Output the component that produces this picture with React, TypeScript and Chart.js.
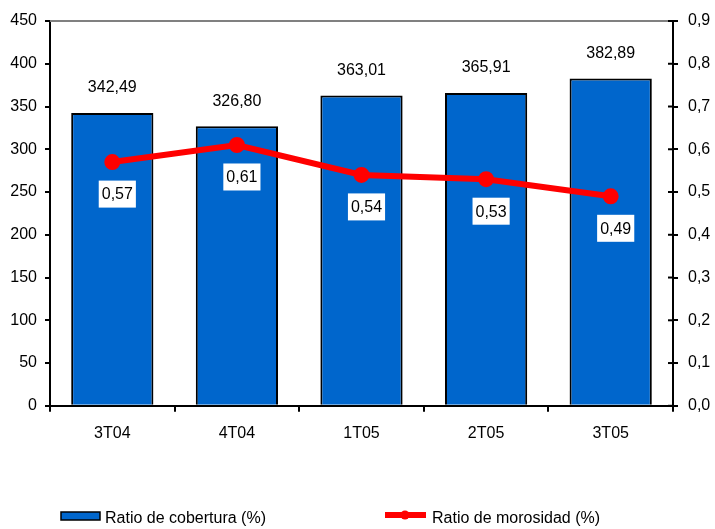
import React, { useEffect, useRef } from "react";
import { Chart, registerables } from "chart.js";

Chart.register(...registerables);

const categories = ["3T04", "4T04", "1T05", "2T05", "3T05"];
const coberturaValues = [342.49, 326.8, 363.01, 365.91, 382.89];
const morosidadValues = [0.57, 0.61, 0.54, 0.53, 0.49];
const coberturaLabel = "Ratio de cobertura (%)";
const morosidadLabel = "Ratio de morosidad (%)";

const FONT = "'Liberation Sans', Arial, sans-serif";
const BLUE = "#0066CC";
const RED = "#FF0000";

const fmt = (v: number, d: number) => v.toFixed(d).replace(".", ",");

const extrasPlugin = {
  id: "extras",
  afterDraw(chart: any) {
    const ctx = chart.ctx;
    const area = chart.chartArea;
    ctx.save();
    // top gray border
    ctx.strokeStyle = "#808080";
    ctx.lineWidth = 2;
    ctx.beginPath();
    ctx.moveTo(area.left, area.top);
    ctx.lineTo(area.right, area.top);
    ctx.stroke();

    // inner ticks of right axis
    const y2 = chart.scales.y2;
    ctx.strokeStyle = "#000";
    ctx.lineWidth = 2;
    y2.ticks.forEach((t: any, i: number) => {
      const y = y2.getPixelForTick(i);
      ctx.beginPath();
      ctx.moveTo(area.right - 5, y);
      ctx.lineTo(area.right, y);
      ctx.stroke();
    });

    // bar value labels
    ctx.font = `16px ${FONT}`;
    ctx.textAlign = "center";
    ctx.textBaseline = "middle";
    ctx.fillStyle = "#000";
    const barMeta = chart.getDatasetMeta(0);
    barMeta.data.forEach((el: any, i: number) => {
      ctx.fillText(fmt(coberturaValues[i], 2), el.x, el.y - 25);
    });

    // line value labels in white boxes
    const lineMeta = chart.getDatasetMeta(1);
    lineMeta.data.forEach((el: any, i: number) => {
      const txt = fmt(morosidadValues[i], 2);
      const w = ctx.measureText(txt).width + 6;
      const h = 27;
      const cx = el.x + 5;
      const cy = el.y + 32;
      ctx.fillStyle = "#fff";
      ctx.fillRect(cx - w / 2, cy - h / 2, w, h);
      ctx.fillStyle = "#000";
      ctx.fillText(txt, cx, cy + 1);
    });

    // legend
    ctx.fillStyle = BLUE;
    ctx.fillRect(61, 512, 39, 8);
    ctx.strokeStyle = "#000";
    ctx.lineWidth = 1.5;
    ctx.strokeRect(61, 512, 39, 8);
    ctx.textAlign = "left";
    ctx.fillStyle = "#000";
    ctx.font = `16px ${FONT}`;
    ctx.fillText(coberturaLabel, 105, 519);

    ctx.strokeStyle = RED;
    ctx.lineWidth = 6;
    ctx.beginPath();
    ctx.moveTo(385, 515);
    ctx.lineTo(426, 515);
    ctx.stroke();
    ctx.fillStyle = RED;
    ctx.beginPath();
    ctx.arc(405, 515, 4.5, 0, Math.PI * 2);
    ctx.fill();
    ctx.fillStyle = "#000";
    ctx.fillText(morosidadLabel, 432, 519);
    ctx.restore();
  },
};

export default function App() {
  const ref = useRef<HTMLCanvasElement>(null);
  useEffect(() => {
    if (!ref.current) return;
    const chart = new Chart(ref.current, {
      data: {
        labels: categories,
        datasets: [
          {
            type: "bar",
            label: coberturaLabel,
            data: coberturaValues,
            backgroundColor: BLUE,
            borderColor: "#000",
            borderWidth: 2,
            categoryPercentage: 0.66,
            barPercentage: 1,
            yAxisID: "y",
            order: 2,
          },
          {
            type: "line",
            label: morosidadLabel,
            data: morosidadValues,
            borderColor: RED,
            backgroundColor: RED,
            borderWidth: 6,
            pointRadius: 5,
            pointBackgroundColor: RED,
            pointBorderColor: RED,
            yAxisID: "y2",
            order: 1,
            tension: 0,
          },
        ],
      },
      options: {
        animation: false,
        responsive: true,
        maintainAspectRatio: false,
        layout: { padding: { top: 21, left: 0, right: 0, bottom: 74 } },
        plugins: { legend: { display: false }, tooltip: { enabled: false } },
        scales: {
          x: {
            offset: true,
            grid: {
              offset: true,
              drawOnChartArea: false,
              drawTicks: true,
              tickLength: 6,
              color: "#000",
              lineWidth: 2,
            },
            border: { color: "#000", width: 2 },
            ticks: {
              color: "#000",
              font: { family: FONT, size: 16 },
              padding: 12,
            },
          },
          y: {
            position: "left",
            min: 0,
            max: 450,
            afterFit: (s: any) => {
              s.width = 50;
            },
            ticks: {
              stepSize: 50,
              color: "#000",
              font: { family: FONT, size: 16 },
              padding: 8,
            },
            grid: {
              drawOnChartArea: false,
              drawTicks: true,
              tickLength: 5,
              color: "#000",
              lineWidth: 2,
            },
            border: { color: "#000", width: 2 },
          },
          y2: {
            position: "right",
            min: 0,
            max: 0.9,
            afterFit: (s: any) => {
              s.width = 42;
            },
            ticks: {
              stepSize: 0.1,
              color: "#000",
              font: { family: FONT, size: 16 },
              padding: 10,
              callback: (v: any) => fmt(Number(v), 1),
            },
            grid: {
              drawOnChartArea: false,
              drawTicks: true,
              tickLength: 5,
              color: "#000",
              lineWidth: 2,
            },
            border: { color: "#000", width: 2 },
          },
        },
      },
      plugins: [extrasPlugin],
    } as any);
    return () => chart.destroy();
  }, []);
  return (
    <div style={{ position: "absolute", left: 0, top: 0, width: 715, height: 529 }}>
      <canvas ref={ref} />
    </div>
  );
}
